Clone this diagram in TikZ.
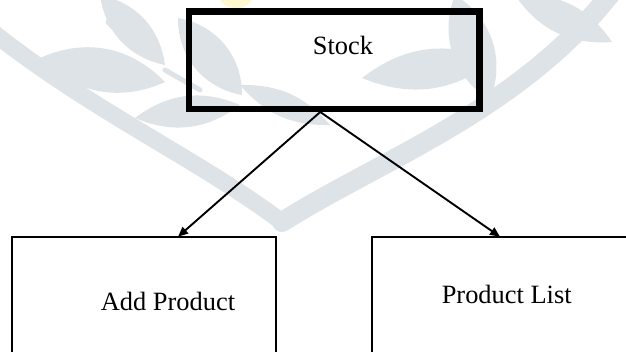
\documentclass[tikz,border=0pt]{standalone}
\usepackage{fontspec}
\setmainfont{Liberation Serif}
\usetikzlibrary{arrows.meta,calc}
\definecolor{wmark}{RGB}{221,227,231}
\definecolor{wyellow}{RGB}{255,247,205}
\tikzset{
  box/.style={draw, line width=1.9pt, minimum height=150pt, inner sep=0pt, outer sep=0pt, anchor=north west},
  topbox/.style={draw, line width=6.5pt, minimum width=290.5pt, minimum height=97.5pt, inner sep=0pt, outer sep=0pt},
  caption/.style={font=\fontsize{26.4}{30}\selectfont, anchor=base, inner sep=0pt},
  link/.style={line width=1.9pt, -{Triangle[length=10pt,width=8.5pt]}},
  leaf/.style={fill=wmark},
  band/.style={draw=wmark, line cap=round},
}
\begin{document}
\begin{tikzpicture}[x=1pt,y=-1pt]
\useasboundingbox (0,0) rectangle (626,351);
\begin{scope}
\clip (0,0) rectangle (626,351);
\fill[white] (0,0) rectangle (626,351);
% faint background ornament
\draw[band, line width=17pt] (-10,30) .. controls (90,110) and (200,160) .. (282,222);
\draw[band, line width=20pt] (282,222) .. controls (380,160) and (520,110) .. (612,-8);
\fill[leaf] (40,58) to[bend left=35] (165,82) to[bend left=35] (40,58);
\fill[leaf] (100,-5) to[bend left=35] (165,65) to[bend left=35] (100,-5);
\fill[leaf] (135,118) to[bend left=30] (240,105) to[bend left=30] (135,118);
\fill[leaf] (178,18) to[bend left=40] (242,95) to[bend left=40] (178,18);
\draw[band, line width=5pt] (108,22) -- (128,42);
\draw[band, line width=5pt] (165,70) -- (200,90);
\fill[leaf] (455,-5) to[bend left=40] (490,100) to[bend left=40] (455,-5);
\fill[leaf] (362,78) to[bend left=30] (495,60) to[bend left=30] (362,78);
\fill[leaf] (515,-5) to[bend left=30] (612,42) to[bend left=30] (515,-5);
\fill[leaf] (240,85) to[bend left=25] (330,125) to[bend left=25] (240,85);
\fill[wyellow] (236,-2) ellipse (16pt and 10pt);
% boxes
\node[topbox] (stock) at (334.25,60.25) {};
\node[caption] (stocktext) at (343,54) {Stock};
\node[box, minimum width=264pt] (add) at (12,236.7) {};
\node[box, minimum width=300pt] (list) at (372.3,236.7) {};
\node[caption] (addtext) at (168,310) {Add Product};
\node[caption] (listtext) at (506.7,303.3) {Product List};
% connectors
\coordinate (apex) at ([xshift=-14pt,yshift=-3pt]stock.south);
\draw[link] (apex) -- ([xshift=166pt]add.north west);
\draw[link] (apex) -- ([xshift=127.7pt]list.north west);
\end{scope}
\end{tikzpicture}
\end{document}
